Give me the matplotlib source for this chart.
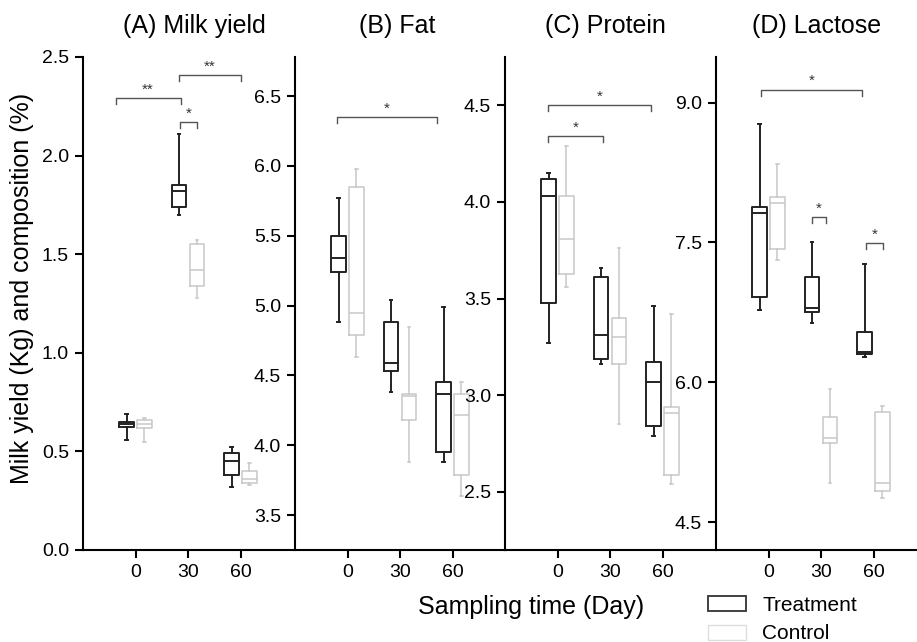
import numpy as np
import matplotlib.pyplot as plt
from matplotlib.patches import Patch

plt.rcParams['font.family'] = ['Liberation Sans', 'DejaVu Sans']

days = ['0', '30', '60']
titles = ['(A) Milk yield', '(B) Fat', '(C) Protein', '(D) Lactose']

# box summaries: whisker low, Q1, median, Q3, whisker high
milk_treatment = [[0.56, 0.625, 0.64, 0.65, 0.69], [1.70, 1.74, 1.82, 1.85, 2.11], [0.32, 0.38, 0.45, 0.49, 0.52]]
milk_control = [[0.55, 0.62, 0.64, 0.66, 0.67], [1.28, 1.34, 1.42, 1.55, 1.57], [0.33, 0.34, 0.36, 0.40, 0.44]]
fat_treatment = [[4.88, 5.24, 5.34, 5.50, 5.77], [4.38, 4.53, 4.59, 4.88, 5.04], [3.88, 3.95, 4.37, 4.45, 4.99]]
fat_control = [[4.63, 4.79, 4.95, 5.85, 5.975], [3.88, 4.18, 4.35, 4.37, 4.85], [3.64, 3.79, 4.22, 4.37, 4.45]]
protein_treatment = [[3.27, 3.48, 4.03, 4.12, 4.15], [3.16, 3.19, 3.31, 3.61, 3.66], [2.79, 2.84, 3.07, 3.17, 3.46]]
protein_control = [[3.56, 3.63, 3.81, 4.03, 4.29], [2.85, 3.16, 3.30, 3.40, 3.76], [2.54, 2.59, 2.91, 2.94, 3.42]]
lactose_treatment = [[6.78, 6.92, 7.82, 7.88, 8.77], [6.64, 6.75, 6.80, 7.13, 7.51], [6.27, 6.30, 6.32, 6.54, 7.27]]
lactose_control = [[7.31, 7.43, 7.92, 7.99, 8.34], [4.92, 5.35, 5.40, 5.63, 5.93], [4.76, 4.83, 4.92, 5.68, 5.74]]

# significance brackets: x start, x end, height, label
milk_brackets = [(-0.38, 0.86, 2.29, '**'), (0.83, 2.0, 2.41, '**'), (0.84, 1.18, 2.17, '*')]
fat_brackets = [(-0.2, 1.7, 6.35, '*')]
protein_brackets = [(-0.18, 1.78, 4.50, '*'), (-0.18, 0.86, 4.34, '*')]
lactose_brackets = [(-0.15, 1.79, 9.14, '*'), (0.82, 1.10, 7.77, '*'), (1.85, 2.19, 7.49, '*')]

panels = [
    (milk_treatment, milk_control, milk_brackets, (0, 2.5), np.arange(0, 2.51, 0.5)),
    (fat_treatment, fat_control, fat_brackets, (3.25, 6.78), np.arange(3.5, 6.51, 0.5)),
    (protein_treatment, protein_control, protein_brackets, (2.2, 4.75), np.arange(2.5, 4.51, 0.5)),
    (lactose_treatment, lactose_control, lactose_brackets, (4.2, 9.49), np.arange(4.5, 9.01, 1.5)),
]

W, H = 917, 642
fig = plt.figure(figsize=(W / 100, H / 100), dpi=100)

ax_left = [83, 295, 505, 716]
title_x = [0.53, 0.486, 0.48, 0.48]
trt_color = '#222222'
ctl_color = '#c8c8c8'


def to_stats(rows):
    return [dict(whislo=r[0], q1=r[1], med=r[2], q3=r[3], whishi=r[4], fliers=[]) for r in rows]


for k, (trt, ctl, brackets, ylim, yticks) in enumerate(panels):
    ax = fig.add_axes([ax_left[k] / W, 1 - 550 / H, 210 / W, 493 / H])
    ax.patch.set_alpha(0)
    pos = np.arange(3)
    for rows, off, col, lw in [(trt, -0.17, trt_color, 1.4), (ctl, 0.17, ctl_color, 1.1)]:
        props = dict(color=col, linewidth=lw)
        ax.bxp(to_stats(rows), positions=pos + off, widths=0.27, showfliers=False,
               boxprops=props, medianprops=props, whiskerprops=props, capprops=props,
               capwidths=0.05, manage_ticks=False)

    drop = 0.012 * (ylim[1] - ylim[0])
    for x1, x2, y, lab in brackets:
        ax.plot([x1, x1, x2, x2], [y - drop, y, y, y - drop], color='#555555', lw=1.0)
        ax.annotate(lab, xy=((x1 + x2) / 2, y), xytext=(0, 1), textcoords='offset points',
                    ha='center', va='bottom', fontsize=11, color='#333333')

    ax.set_xlim(-1, 3)
    ax.set_ylim(*ylim)
    ax.set_xticks(pos)
    ax.set_xticklabels(days)
    ax.set_yticks(yticks)
    ax.set_yticklabels(['%.1f' % t for t in yticks])
    for s in ['top', 'right']:
        ax.spines[s].set_visible(False)
    for s in ['left', 'bottom']:
        ax.spines[s].set_linewidth(1.5)
    ax.tick_params(direction='out', length=6, width=1.5, labelsize=14, pad=4)
    ax.set_title(titles[k], fontsize=18, pad=17, x=title_x[k])

fig.text(22 / W, 0.551, 'Milk yield (Kg) and composition (%)', rotation=90,
         ha='center', va='center', fontsize=18)
fig.text(531 / W, 1 - 607 / H, 'Sampling time (Day)', ha='center', va='center', fontsize=18)

handles = [Patch(facecolor='white', edgecolor='#333333', linewidth=1.3),
           Patch(facecolor='white', edgecolor='#dddddd', linewidth=1.0)]
fig.legend(handles, ['Treatment', 'Control'], loc='upper left',
           bbox_to_anchor=(708 / W, 1 - 596 / H), frameon=False, fontsize=15,
           handlelength=1.83, handleheight=0.72, handletextpad=0.77, labelspacing=0.45,
           borderpad=0, borderaxespad=0)

fig.savefig('out.png', dpi=100)
